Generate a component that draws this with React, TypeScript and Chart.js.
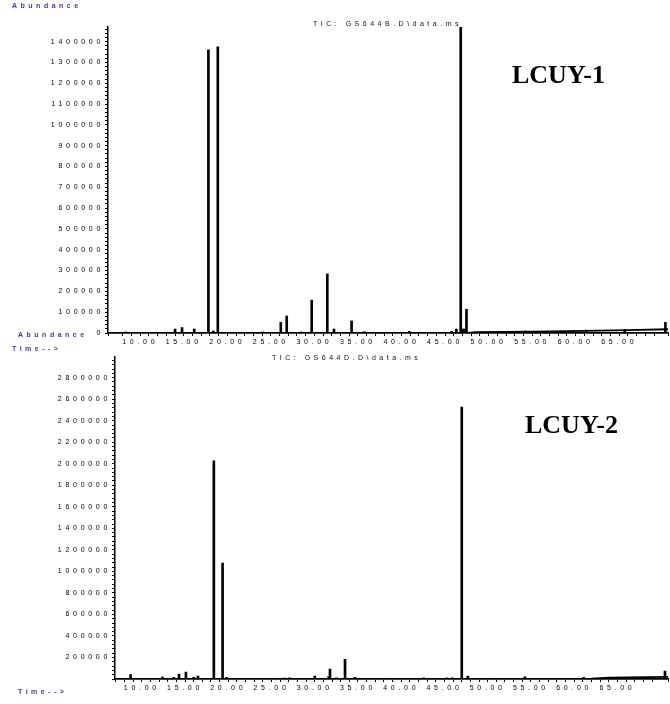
import React, { useEffect, useRef } from 'react';
import { Chart, registerables } from 'chart.js';
Chart.register(...registerables);

// ---- LCUY-1 (TIC: GS644B.D\data.ms) ----
const peakTimes1 = [8.3, 14.0, 14.8, 16.2, 17.83, 18.4, 18.91, 24.1, 26.14, 26.82, 28.5, 29.69, 31.48, 32.25, 34.27, 35.7, 40.9, 45.74, 46.3, 46.8, 47.07, 47.27, 47.46, 54.2, 61.2, 65.6, 70.3];
const peakHeights1 = [5000, 19000, 26000, 19000, 1360000, 10000, 1375000, 5000, 51000, 82000, 5000, 158000, 284000, 19000, 58000, 6000, 8000, 8000, 19000, 1600000, 19000, 19000, 114000, 10000, 14000, 16000, 51000];
const baseTimes1 = [6.3, 47.6, 48.5, 55, 61, 66, 70.6];
const baseValues1 = [0, 0, 4000, 6000, 10000, 14000, 18000];

// ---- LCUY-2 (TIC: GS644D.D\data.ms) ----
const peakTimes2 = [8.7, 12.4, 13.7, 14.3, 15.1, 16.0, 16.5, 18.33, 19.34, 19.8, 26.5, 27.1, 30.0, 31.6, 31.76, 32.5, 33.5, 34.65, 35.8, 42.6, 45.3, 45.9, 47.0, 47.7, 54.3, 61.1, 70.5];
const peakHeights2 = [40000, 18000, 15000, 46000, 65000, 15000, 28000, 2028000, 1076000, 15000, 8000, 12000, 28000, 22000, 93000, 12000, 183000, 15000, 5000, 12000, 10000, 10000, 2527000, 28000, 20000, 15000, 74000];
const baseTimes2 = [6.9, 62, 64, 70.85];
const baseValues2 = [0, 3000, 12000, 20000];

// axis tick labels
const xLabelTimes = [10, 15, 20, 25, 30, 35, 40, 45, 50, 55, 60, 65];
const yLabels1 = [0, 100000, 200000, 300000, 400000, 500000, 600000, 700000, 800000, 900000, 1000000, 1100000, 1200000, 1300000, 1400000];
const yLabels2 = [200000, 400000, 600000, 800000, 1000000, 1200000, 1400000, 1600000, 1800000, 2000000, 2200000, 2400000, 2600000, 2800000];

const BLUE = '#3b3bb0';
const SANS = '"Liberation Sans", Arial, sans-serif';
const SERIF = '"Liberation Serif", "Times New Roman", serif';

type Note = { text: string; x: number; y: number; font: string; color: string; spacing: number; baseline?: CanvasTextBaseline };

const notesPlugin = {
  id: 'notes',
  beforeDraw(chart: any) {
    (chart.ctx as any).letterSpacing = '3.7px';
  },
  afterDraw(chart: any, _args: any, opts: any) {
    const ctx = chart.ctx as CanvasRenderingContext2D;
    const items: Note[] = opts.items || [];
    for (const n of items) {
      ctx.save();
      ctx.font = n.font;
      ctx.fillStyle = n.color;
      (ctx as any).letterSpacing = n.spacing + 'px';
      ctx.textBaseline = n.baseline || 'middle';
      ctx.textAlign = 'left';
      ctx.fillText(n.text, n.x, n.y);
      ctx.restore();
    }
  },
};

function makeConfig(p: {
  baseT: number[]; baseV: number[]; peakT: number[]; peakV: number[];
  xMin: number; xMax: number; yMax: number; yStep: number; yLabels: number[];
  padTop: number; yWidth: number; xHeight: number; notes: Note[];
}): any {
  return {
    type: 'line',
    data: {
      datasets: [
        {
          type: 'line',
          data: p.baseT.map((t, i) => ({ x: t, y: p.baseV[i] })),
          borderColor: '#000',
          borderWidth: 1.8,
          pointRadius: 0,
          tension: 0,
          fill: false,
        },
        {
          type: 'bar',
          data: p.peakT.map((t, i) => ({ x: t, y: p.peakV[i] })),
          backgroundColor: '#000',
          borderWidth: 0,
          barThickness: 2,
          grouped: false,
        },
      ],
    },
    plugins: [notesPlugin],
    options: {
      responsive: false,
      animation: false,
      devicePixelRatio: 1,
      events: [],
      layout: { padding: { top: p.padTop, right: 2, left: 0, bottom: 0 } },
      plugins: {
        legend: { display: false },
        tooltip: { enabled: false },
        notes: { items: p.notes },
      },
      scales: {
        x: {
          type: 'linear',
          min: p.xMin,
          max: p.xMax,
          offset: false,
          afterFit: (s: any) => { s.height = p.xHeight; },
          border: { display: true, color: '#000', width: 1.8 },
          grid: { offset: false, drawOnChartArea: false, drawTicks: true, tickLength: 3, color: '#000' },
          ticks: {
            stepSize: 1,
            autoSkip: false,
            maxRotation: 0,
            minRotation: 0,
            padding: 2,
            color: '#000',
            font: { family: SANS, size: 7 },
            callback: (v: any) => {
              const n = Number(v);
              const r = Math.round(n);
              if (Math.abs(n - r) < 1e-6 && xLabelTimes.includes(r)) return r.toFixed(2);
              return '';
            },
          },
        },
        y: {
          type: 'linear',
          min: 0,
          max: p.yMax,
          afterFit: (s: any) => { s.width = p.yWidth; },
          afterBuildTicks: (s: any) => {
            const t: { value: number }[] = [];
            for (let i = 0; i * p.yStep <= p.yMax; i++) t.push({ value: i * p.yStep });
            s.ticks = t;
          },
          border: { display: true, color: '#000', width: 1.5 },
          grid: { drawOnChartArea: false, drawTicks: true, tickLength: 3, color: '#000' },
          ticks: {
            autoSkip: false,
            padding: 1,
            color: '#000',
            font: { family: SANS, size: 7 },
            callback: (v: any) => {
              const n = Number(v);
              const hit = p.yLabels.find((l) => Math.abs(l - n) < 1);
              return hit === undefined ? '' : String(hit);
            },
          },
        },
      },
    },
  };
}

export default function App() {
  const topRef = useRef<HTMLCanvasElement>(null);
  const botRef = useRef<HTMLCanvasElement>(null);

  useEffect(() => {
    const small = `bold 7px ${SANS}`;
    const tic = `7px ${SANS}`;
    const big = `bold 26px ${SERIF}`;
    const c1 = new Chart(topRef.current!, makeConfig({
      baseT: baseTimes1, baseV: baseValues1, peakT: peakTimes1, peakV: peakHeights1,
      xMin: 6.3, xMax: 70.6, yMax: 1470000, yStep: 20000, yLabels: yLabels1,
      padTop: 27, yWidth: 108, xHeight: 19,
      notes: [
        { text: 'Abundance', x: 12, y: 6, font: small, color: BLUE, spacing: 3.5 },
        { text: 'TIC: GS644B.D\\data.ms', x: 313, y: 24, font: tic, color: '#111', spacing: 3.5 },
        { text: 'LCUY-1', x: 512, y: 83, font: big, color: '#000', spacing: 0, baseline: 'alphabetic' },
        { text: 'Abundance', x: 18, y: 335, font: small, color: BLUE, spacing: 3.5 },
        { text: 'Time-->', x: 12, y: 349, font: small, color: BLUE, spacing: 3.5 },
      ],
    }));
    const c2 = new Chart(botRef.current!, makeConfig({
      baseT: baseTimes2, baseV: baseValues2, peakT: peakTimes2, peakV: peakHeights2,
      xMin: 6.9, xMax: 70.85, yMax: 2990000, yStep: 40000, yLabels: yLabels2,
      padTop: 5, yWidth: 115, xHeight: 25,
      notes: [
        { text: 'TIC: GS644D.D\\data.ms', x: 272, y: 6, font: tic, color: '#111', spacing: 3.5 },
        { text: 'LCUY-2', x: 525, y: 81, font: big, color: '#000', spacing: 0, baseline: 'alphabetic' },
        { text: 'Time-->', x: 18, y: 340, font: small, color: BLUE, spacing: 3.5 },
      ],
    }));
    return () => { c1.destroy(); c2.destroy(); };
  }, []);

  return (
    <div style={{ position: 'absolute', left: 0, top: 0, width: 670, height: 704, background: '#fff' }}>
      <canvas ref={topRef} width={670} height={352} style={{ position: 'absolute', left: 0, top: 0 }} />
      <canvas ref={botRef} width={670} height={352} style={{ position: 'absolute', left: 0, top: 352 }} />
    </div>
  );
}
